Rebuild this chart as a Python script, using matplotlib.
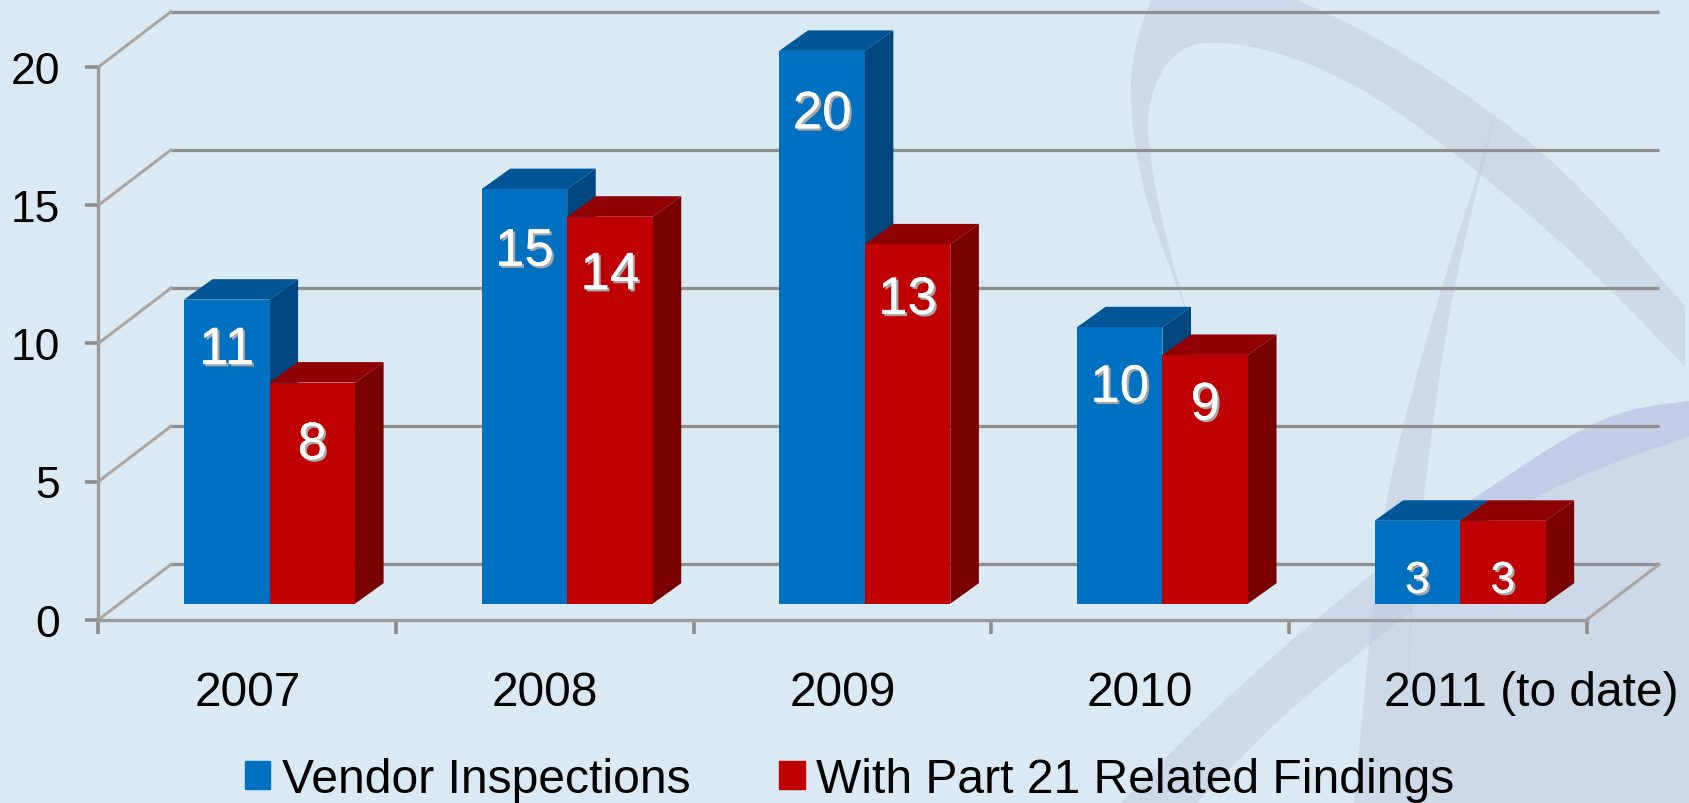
import matplotlib
matplotlib.use("Agg")
import matplotlib.pyplot as plt
import matplotlib.patheffects as pe
from matplotlib.patches import Patch, PathPatch
from matplotlib.path import Path
from matplotlib.transforms import ScaledTranslation
import numpy as np

years = ["2007", "2008", "2009", "2010", "2011 (to date)"]
vendor_inspections = [11, 15, 20, 10, 3]
part21_findings = [8, 14, 13, 9, 3]
y_ticks = [0, 5, 10, 15, 20]
legend_labels = ["Vendor Inspections", "With Part 21 Related Findings"]

plt.rcParams['font.family'] = ['Liberation Sans', 'DejaVu Sans']

W, H = 1690, 804
BG = "#DAEAF5"
RIBBON = "#C0CADF"
RIBBON_DARK = "#C1CDE4"
BLUE = ("#0070C0", "#005596", "#00477F")
RED = ("#C00000", "#900000", "#7A0000")

# depth of the fake 3d box, in data units
wall_dx, wall_dy = 0.2436, 2.0
bar_dx, bar_dy = 0.096, 0.74
bar_start, bar_w = 0.2873, 0.2873
base = 0.58

fig = plt.figure(figsize=(W / 100, H / 100), dpi=100, facecolor=BG)


def smooth(pts):
    # quadratic curve through midpoints, a repeated point gives a corner
    verts = [pts[0]]
    codes = [Path.MOVETO]
    for a, b in zip(pts[:-1], pts[1:]):
        verts += [a, ((a[0] + b[0]) / 2, (a[1] + b[1]) / 2)]
        codes += [Path.CURVE3, Path.CURVE3]
    verts += [pts[-1]]
    codes += [Path.LINETO]
    return Path(verts, codes)


# background ribbons, drawn in pixels
bg = fig.add_axes([0, 0, 1, 1])
bg.set_xlim(0, W)
bg.set_ylim(H, 0)
bg.axis("off")

arc = [(1195, 340), (1195, 340), (1177, 287), (1144, 200), (1128, 100), (1136, 40), (1152, 0), (1152, 0),
       (1295, 0), (1295, 0), (1377, 37), (1499, 117), (1581, 187), (1685, 307), (1685, 307),
       (1685, 368), (1685, 368), (1581, 260), (1479, 173), (1377, 97), (1295, 57), (1213, 40),
       (1172, 53), (1148, 100), (1148, 150), (1164, 233), (1195, 340), (1195, 340)]
blade = [(1497, 110), (1497, 110), (1478, 173), (1442, 287), (1415, 380), (1385, 500), (1372, 613),
         (1354, 804), (1354, 804), (1404, 804), (1404, 804), (1410, 613), (1438, 380), (1458, 267),
         (1497, 110), (1497, 110)]
swoosh = [(1121, 804), (1121, 804), (1224, 700), (1366, 577), (1492, 487), (1568, 437), (1626, 410),
          (1690, 402), (1690, 402), (1690, 804), (1690, 804), (1404, 804), (1404, 804), (1407, 700),
          (1410, 613), (1410, 613), (1373, 643), (1281, 717), (1197, 804), (1197, 804)]
overlap = [(1440, 522), (1440, 522), (1492, 487), (1568, 437), (1626, 410), (1690, 402), (1690, 402),
           (1690, 437), (1690, 437), (1587, 473), (1492, 520), (1440, 560), (1440, 560)]
for pts in [arc, swoosh, blade]:
    bg.add_patch(PathPatch(smooth(pts), facecolor=RIBBON, edgecolor="none", alpha=0.5))
bg.add_patch(PathPatch(smooth(overlap), facecolor=RIBBON_DARK, edgecolor="none"))

ax = fig.add_axes([98.5 / W, (H - 620.7) / H, 1488.2 / W, 552.8 / H])
ax.patch.set_alpha(0)
ax.set_xlim(0, 5)
ax.set_ylim(0, 20)
for s in ["top", "right"]:
    ax.spines[s].set_visible(False)
for s in ["left", "bottom"]:
    ax.spines[s].set_color("#9C9C9C")
    ax.spines[s].set_linewidth(2.4)

ax.set_yticks(y_ticks)
ax.tick_params(axis="y", length=9.7, width=2.6, color="#8C8C8C", pad=18, labelsize=32)
ax.set_xticks(range(6))
ax.set_xticklabels([])
ax.tick_params(axis="x", which="major", length=10, width=2.6, color="#8C8C8C")
ax.set_xticks(np.arange(5) + 0.5, years, minor=True)
ax.tick_params(axis="x", which="minor", length=0, pad=36, labelsize=34.5)
# the long last label sits to the right of its slot
last = ax.get_xticklabels(minor=True)[-1]
last.set_transform(last.get_transform() + ScaledTranslation(93 / 100, 0, fig.dpi_scale_trans))

# back wall and side lines
for v in y_ticks:
    ax.plot([wall_dx, 5 + wall_dx], [v + wall_dy, v + wall_dy], color="#8E8E8E", lw=2.3, zorder=1,
            clip_on=False, solid_capstyle="butt")
    ax.plot([0, wall_dx], [v, v + wall_dy], color="#A9A6A2", lw=2.2, zorder=1, clip_on=False)
ax.plot([5, 5 + wall_dx], [0, wall_dy], color="#A9A6A2", lw=2.2, zorder=1, clip_on=False)

drop_blue = [45, 57, 58, 55, 56]
drop_red = [57, 53, 50, 45, 56]
shadow = [pe.withSimplePatchShadow(offset=(1.6, -1.6), shadow_rgbFace="#A8A8A8", alpha=1), pe.Normal()]


def draw_bars(values, slot, colors, drops, z):
    for i, v in enumerate(values):
        x0 = i + bar_start + slot * bar_w
        x1 = x0 + bar_w
        top = base + v
        ax.bar(x0, v, bar_w, bottom=base, align="edge", color=colors[0], zorder=z + 2, clip_on=False)
        ax.fill([x0, x1, x1 + bar_dx, x0 + bar_dx], [top, top, top + bar_dy, top + bar_dy],
                color=colors[1], lw=0, zorder=z + 1, clip_on=False)
        ax.fill([x1, x1 + bar_dx, x1 + bar_dx, x1], [base, base + bar_dy, top + bar_dy, top],
                color=colors[2], lw=0, zorder=z + 1, clip_on=False)
        ax.annotate(str(v), (x0 + bar_w / 2, top), xytext=(0, -drops[i] * 0.72), textcoords="offset points",
                    ha="center", va="center_baseline", color="white", fontsize=38 if v > 3 else 32,
                    zorder=10, path_effects=shadow, annotation_clip=False)


draw_bars(vendor_inspections, 0, BLUE, drop_blue, 2)
draw_bars(part21_findings, 1, RED, drop_red, 5)

handles = [Patch(color=BLUE[0], label=legend_labels[0]), Patch(color=RED[0], label=legend_labels[1])]
fig.legend(handles=handles, loc="lower left", bbox_to_anchor=(245 / W, 1 / H), ncol=2, frameon=False, fontsize=34.6,
           borderpad=0, borderaxespad=0, handlelength=0.53, handleheight=0.53, handletextpad=0.24,
           columnspacing=1.84)

fig.savefig("out.png", dpi=100, facecolor=BG)
